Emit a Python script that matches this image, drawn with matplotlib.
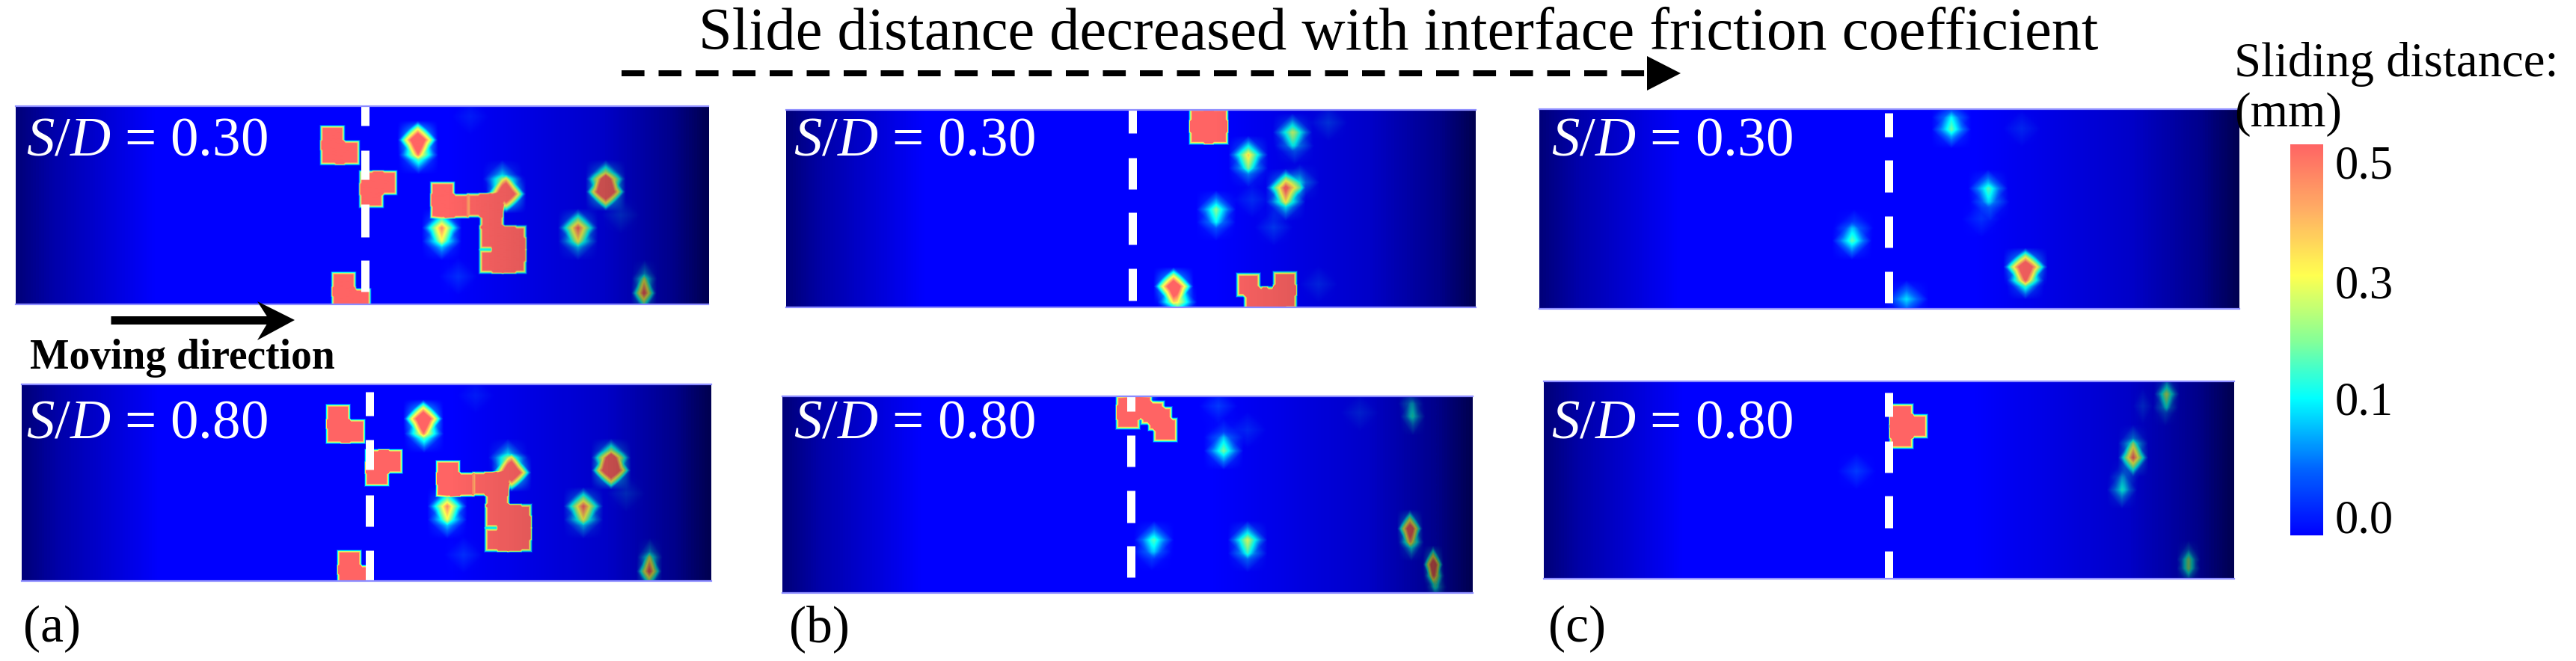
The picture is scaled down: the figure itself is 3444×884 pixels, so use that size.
import numpy as np
import matplotlib
matplotlib.use("Agg")
import matplotlib.pyplot as plt
from matplotlib.cm import ScalarMappable
from matplotlib.colors import LinearSegmentedColormap, Normalize
from matplotlib.patches import Polygon

W, H = 3444, 884
plt.rcParams['font.family'] = ['Liberation Serif', 'DejaVu Serif']
plt.rcParams['mathtext.fontset'] = 'custom'
plt.rcParams['mathtext.rm'] = 'Liberation Serif'
plt.rcParams['mathtext.it'] = 'Liberation Serif:italic'
plt.rcParams['mathtext.default'] = 'regular'

# ---- data: hot spots (x, y along the panel, colour level, optional half width) ----
a_shared = [
    (423, 43, 2.5), (423, 63, 2.5), (443, 63, 2.5),
    (537, 46, 1.5), (538, 66, 0.6),
    (475, 103, 2.5), (493, 103, 2.5), (475, 120, 2.5),
    (570, 118, 2.5), (570, 134, 2.5), (589, 134, 2.5),
    (619, 133, 2.2), (635, 133, 2.2), (636, 148, 2.2),
    (655, 118, 1.7), (650, 98, 0.4),
    (635, 176, 1.9), (635, 208, 1.9), (652, 176, 1.9), (652, 192, 1.9),
    (652, 208, 1.9), (666, 176, 1.9), (666, 192, 1.9), (666, 208, 1.9),
    (569, 163, 0.8), (569, 181, 0.4),
    (788, 115, 1.6), (788, 98, 0.9),
    (751, 163, 0.9), (751, 181, 0.4),
    (808, 146, 0.1), (591, 228, 0.08), (607, 15, 0.05),
    (839, 250, 1.0, 15), (840, 231, 0.35, 15),
]
a1_extra = [(438, 238, 2.5), (438, 258, 2.5), (458, 260, 2.5)]
a2_extra = [(438, 238, 2.5), (438, 258, 2.5), (450, 258, 2.5)]
b1_spots = [
    (555, 14, 2.2), (575, 14, 2.2), (555, 30, 2.2), (575, 30, 2.2),
    (677, 30, 0.55), (680, 48, 0.2), (725, 17, 0.1),
    (618, 60, 0.65), (618, 78, 0.3),
    (668, 104, 0.95), (668, 123, 0.45), (687, 97, 0.25),
    (575, 133, 0.45), (575, 150, 0.2),
    (623, 120, 0.08), (652, 157, 0.1),
    (518, 236, 1.4), (523, 257, 0.6),
    (618, 234, 1.9), (628, 252, 1.9), (652, 252, 1.9), (667, 232, 2.0), (667, 250, 2.0),
    (712, 233, 0.07),
]
b2_spots = [
    (462, 15, 2.2), (478, 15, 2.2), (462, 28, 2.2), (505, 30, 2.2), (512, 45, 2.2),
    (495, 22, 1.9), (478, 0, 0.3),
    (590, 73, 0.45), (590, 55, 0.15), (622, 45, 0.07), (583, 13, 0.1), (772, 22, 0.07),
    (843, 27, 0.35, 15), (840, 10, 0.2, 15),
    (622, 192, 0.55), (622, 210, 0.25),
    (497, 192, 0.4), (494, 208, 0.15),
    (839, 177, 1.2, 15), (841, 195, 0.5, 15),
    (870, 225, 1.2, 12), (872, 240, 0.5, 12), (875, 255, 0.25, 12),
]
c1_spots = [
    (551, 27, 0.4), (551, 11, 0.2), (645, 26, 0.07),
    (600, 106, 0.4), (603, 124, 0.2), (591, 147, 0.08),
    (418, 176, 0.42), (421, 159, 0.15),
    (650, 211, 1.35, 26), (650, 229, 0.62, 22),
    (491, 254, 0.32, 26),
]
c2_spots = [
    (478, 46, 2.2), (478, 60, 2.5), (478, 74, 2.2), (497, 60, 2.2),
    (788, 102, 0.95, 18), (788, 83, 0.3, 18),
    (833, 17, 0.55, 15), (831, 35, 0.2, 15),
    (773, 145, 0.35, 18), (776, 128, 0.15, 18),
    (801, 33, 0.09, 12),
    (862, 238, 0.35, 14), (862, 250, 0.35, 14),
    (418, 120, 0.1),
]

# dashed interface line: (start, end) along each panel's height
a1_dash = [(0, 26), (59, 98), (131, 175), (206, 248)]
a2_dash = [(10, 42), (74, 114), (148, 190), (222, 263)]
b1_dash = [(0, 31), (64, 106), (137, 180), (212, 255)]
b2_dash = [(0, 20), (52, 94), (126, 169), (200, 242)]
c1_dash = [(5, 37), (68, 111), (143, 185), (217, 259)]
c2_dash = [(15, 47), (80, 122), (153, 196), (227, 265)]

tick_levels = [0.048, 0.35, 0.65, 0.955]
tick_labels = ['0.0', '0.1', '0.3', '0.5']

colour_stops = [(0.0, (0, 0, 255)), (0.17, (0, 100, 255)), (0.35, (0, 255, 255)),
                (0.5, (135, 255, 150)), (0.665, (255, 255, 80)),
                (0.83, (255, 175, 100)), (1.0, (255, 100, 100))]
shade_stops = [(0.0, 0.52), (0.05, 0.34), (0.2, 0.0), (0.62, 0.0),
               (0.85, 0.22), (0.95, 0.46), (1.0, 0.68)]

# panel: left, right, top, bottom (px), spots, dash x (px), dash list, label, label x, baseline
panels = [
    (21, 947, 142, 407, a_shared + a1_extra, 488, a1_dash, '0.30', 35, 208),
    (29, 951, 514, 777, a_shared + a2_extra, 494, a2_dash, '0.80', 35, 586),
    (1051, 1973, 147, 411, b1_spots, 1514, b1_dash, '0.30', 1061, 208),
    (1046, 1969, 530, 793, b2_spots, 1512, b2_dash, '0.80', 1061, 586),
    (2058, 2994, 146, 413, c1_spots, 2525, c1_dash, '0.30', 2074, 208),
    (2064, 2987, 510, 774, c2_spots, 2525, c2_dash, '0.80', 2074, 586),
]

# ---- drawing ----
cmap = LinearSegmentedColormap.from_list(
    'slide', [(p, tuple(c / 255 for c in rgb)) for p, rgb in colour_stops], N=512)
shade = LinearSegmentedColormap.from_list(
    'shade', [(p, (0, 0, 0, a)) for p, a in shade_stops], N=256)

fig = plt.figure(figsize=(W / 100, H / 100), dpi=100, facecolor='white')


def axes_px(l, r, t, b):
    return fig.add_axes([l / W, 1 - b / H, (r - l) / W, (b - t) / H])


def field(spots, w, h):
    xx, yy = np.meshgrid(np.arange(w) + 0.5, np.arange(h) + 0.5)
    z = np.zeros((h, w))
    for s in spots:
        strong = s[2] >= 1.8
        if strong:
            # saturated cells read as blocks with a thin coloured rim
            tx = np.clip(1 - np.abs(xx - s[0]) / 17, 0, 1)
            ty = np.clip(1 - np.abs(yy - s[1]) / 17, 0, 1)
            z += 1.6 * s[2] * np.minimum(tx, ty)
        else:
            # weaker ones read as a diamond core with four-pointed arms
            half = s[3] * 1.15 if len(s) > 3 else 27
            tx = np.clip(1 - np.abs(xx - s[0]) / half, 0, 1)
            ty = np.clip(1 - np.abs(yy - s[1]) / 26, 0, 1)
            z += s[2] * (0.55 * np.clip(tx + ty - 1, 0, 1) + 0.45 * tx * ty)
    return z


for l, r, t, b, spots, dash_x, dashes, lab, lab_x, lab_y in panels:
    ax = axes_px(l, r, t, b)
    w, h = r - l, b - t
    ax.imshow(field(spots, w, h), extent=(0, w, h, 0), aspect='auto', cmap=cmap,
              vmin=0, vmax=1, interpolation='bilinear')
    ax.imshow(np.linspace(0, 1, 256)[None, :], extent=(0, w, h, 0), aspect='auto',
              cmap=shade, vmin=0, vmax=1, interpolation='bilinear')
    ax.vlines([dash_x - l] * len(dashes), [d[0] for d in dashes], [d[1] for d in dashes],
              colors='white', linewidth=11 * 0.72, capstyle='butt')
    ax.set_xlim(0, w)
    ax.set_ylim(h, 0)
    ax.set_xticks([])
    ax.set_yticks([])
    for side, spine in ax.spines.items():
        if side in ('top', 'bottom'):
            spine.set_color('#8c8cff')
            spine.set_linewidth(1.6)
        else:
            spine.set_visible(False)

# overlay in figure pixels for the annotations
ov = fig.add_axes([0, 0, 1, 1], zorder=5)
ov.set_xlim(0, W)
ov.set_ylim(H, 0)
ov.axis('off')

for l, r, t, b, spots, dash_x, dashes, lab, lab_x, lab_y in panels:
    ov.text(lab_x, lab_y, r'$\mathit{S}$/$\mathit{D}$ = ' + lab, color='white',
            fontsize=54, va='baseline', ha='left')

ov.text(934, 66, 'Slide distance decreased with interface friction coefficient',
        fontsize=58, va='baseline', ha='left', color='black')
ov.plot([831, 2204], [98, 98], color='black', lw=8 * 0.72,
        linestyle=(0, (30.6 / 8, 18.9 / 8)), dash_capstyle='butt')
ov.add_patch(Polygon([(2202, 75), (2247, 98), (2202, 121)], closed=True,
                     facecolor='black', edgecolor='none'))

ov.plot([148, 362], [428, 428], color='black', lw=11 * 0.72, solid_capstyle='butt')
ov.add_patch(Polygon([(344, 403), (394, 428), (344, 455), (360, 428)], closed=True,
                     facecolor='black', edgecolor='none'))
ov.text(40, 493, 'Moving direction', fontsize=40, fontweight='bold',
        va='baseline', ha='left', color='black')

for txt, x in [('(a)', 31), ('(b)', 1055), ('(c)', 2070)]:
    ov.text(x, 858, txt, fontsize=50, va='baseline', ha='left', color='black')

ov.text(2987, 102, 'Sliding distance:', fontsize=46.6, va='baseline', ha='left', color='black')
ov.text(2987, 169, '(mm)', fontsize=46.6, va='baseline', ha='left', color='black')

cax = axes_px(3062, 3106, 193, 716)
cb = fig.colorbar(ScalarMappable(Normalize(0, 1), cmap), cax=cax, ticks=tick_levels)
cb.ax.set_yticklabels(tick_labels)
cb.ax.tick_params(length=0, pad=11.5, labelsize=45)
cb.outline.set_visible(False)

fig.savefig('out.png', dpi=100, facecolor='white')
